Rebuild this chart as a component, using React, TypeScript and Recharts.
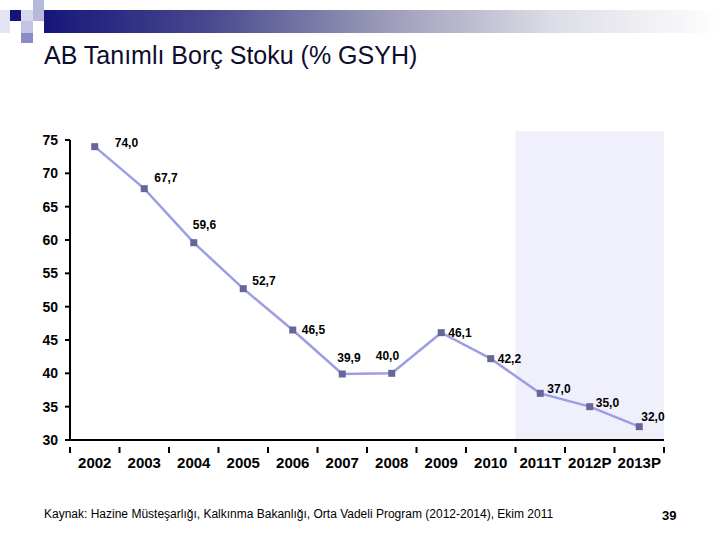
import React from 'react';
import {
  LineChart, Line, XAxis, YAxis, ReferenceArea, LabelList,
} from 'recharts';

const years = ['2002', '2003', '2004', '2005', '2006', '2007', '2008', '2009', '2010', '2011T', '2012P', '2013P'];
const debtRatio = [74.0, 67.7, 59.6, 52.7, 46.5, 39.9, 40.0, 46.1, 42.2, 37.0, 35.0, 32.0];
const yTicks = [30, 35, 40, 45, 50, 55, 60, 65, 70, 75];
const forecastStart = '2011T';
const forecastEnd = '2013P';

// label nudges (dx, dy) so the value text sits like in the slide
const labelNudge = [
  [20, -4], [10, -11], [-1, -18], [9, -8], [9, 0], [-5, -16],
  [-16, -17], [7, 0], [7, 0], [7, -4], [6, -4], [2, -10],
];

const data = years.map((year, i) => ({ year, value: debtRatio[i] }));

const W = 720;
const H = 540;
const PLOT_LEFT = 70;
const PLOT_RIGHT = 56;
const BAND = (W - PLOT_LEFT - PLOT_RIGHT) / years.length;
const FONT = 'Arial, "Liberation Sans", sans-serif';

const XTick = (props: any) => {
  const { x, y, payload, index } = props;
  const left = x - BAND / 2;
  return (
    <g>
      <line x1={left} x2={left} y1={y - 1} y2={y + 5} stroke="#000" strokeWidth={2} />
      {index === years.length - 1 && (
        <line x1={x + BAND / 2} x2={x + BAND / 2} y1={y - 1} y2={y + 5} stroke="#000" strokeWidth={2} />
      )}
      <text x={x} y={y + 20} textAnchor="middle" fontSize={15} fontWeight="bold" fontFamily={FONT} fill="#000">
        {payload.value}
      </text>
    </g>
  );
};

const ValueLabel = (props: any) => {
  const { x, y, value, index } = props;
  const [dx, dy] = labelNudge[index] || [6, -6];
  return (
    <text x={x + dx} y={y + dy} dominantBaseline="central" fontSize={12} fontWeight="bold" fontFamily={FONT} fill="#000">
      {Number(value).toFixed(1).replace('.', ',')}
    </text>
  );
};

const SquareDot = (props: any) => {
  const { cx, cy, index } = props;
  return <rect key={`dot-${index}`} x={cx - 3.5} y={cy - 3.5} width={7} height={7} fill="#666699" />;
};

const sq = (left: number, top: number, w: number, h: number, bg: string) => (
  <div style={{ position: 'absolute', left, top, width: w, height: h, background: bg }} />
);

export default function App() {
  return (
    <div style={{ position: 'absolute', left: 0, top: 0, width: W, height: H, background: '#fff', overflow: 'hidden' }}>
      {/* slide header decoration */}
      <div style={{
        position: 'absolute', left: 44, top: 10, width: W - 44, height: 23,
        background: 'linear-gradient(to right, #16167a 0%, #4a4a90 25%, #9a9ab8 50%, #dcdce6 75%, #ffffff 100%)',
      }} />
      {sq(0, 10, 10, 23, '#e4e4f2')}
      {sq(10, 10, 11, 11, '#14147a')}
      {sq(21, 10, 12, 11, '#d8d8ec')}
      {sq(33, 0, 11, 21, '#b8b8da')}
      {sq(21, 21, 12, 12, '#c4c4e2')}
      {sq(21, 33, 12, 10, '#8c8cc4')}
      <div style={{
        position: 'absolute', left: 44, top: 41, fontFamily: FONT, fontSize: 25,
        color: '#0d0d2e', whiteSpace: 'nowrap',
      }}>
        AB Tanımlı Borç Stoku (% GSYH)
      </div>

      <div style={{ position: 'absolute', left: 0, top: 0 }}>
        <LineChart width={W} height={H} data={data} margin={{ top: 140, right: PLOT_RIGHT, left: 0, bottom: 60 }}>
          <ReferenceArea
            x1={forecastStart}
            x2={forecastEnd}
            y1={30}
            y2={76.3}
            ifOverflow="visible"
            fill="#f0f0fc"
            fillOpacity={1}
            stroke="none"
          />
          <XAxis
            dataKey="year"
            scale="band"
            height={40}
            interval={0}
            tickLine={false}
            axisLine={{ stroke: '#000', strokeWidth: 2 }}
            tick={<XTick />}
          />
          <YAxis
            width={PLOT_LEFT}
            domain={[30, 75]}
            ticks={yTicks}
            interval={0}
            tickSize={5}
            tickMargin={7}
            axisLine={{ stroke: '#000', strokeWidth: 2 }}
            tickLine={{ stroke: '#000', strokeWidth: 2 }}
            tick={{ fontSize: 14, fontWeight: 'bold', fontFamily: FONT, fill: '#000' }}
          />
          <Line
            type="linear"
            dataKey="value"
            stroke="#9d9de3"
            strokeWidth={2.5}
            dot={<SquareDot />}
            activeDot={false}
            isAnimationActive={false}
          >
            <LabelList dataKey="value" content={<ValueLabel />} />
          </Line>
        </LineChart>
      </div>

      <div style={{
        position: 'absolute', left: 44, top: 507, fontFamily: FONT, fontSize: 12,
        color: '#000', whiteSpace: 'nowrap',
      }}>
        Kaynak: Hazine Müsteşarlığı, Kalkınma Bakanlığı, Orta Vadeli Program (2012-2014), Ekim 2011
      </div>
      <div style={{
        position: 'absolute', left: 662, top: 508, fontFamily: FONT, fontSize: 13,
        fontWeight: 'bold', color: '#000',
      }}>
        39
      </div>
    </div>
  );
}
